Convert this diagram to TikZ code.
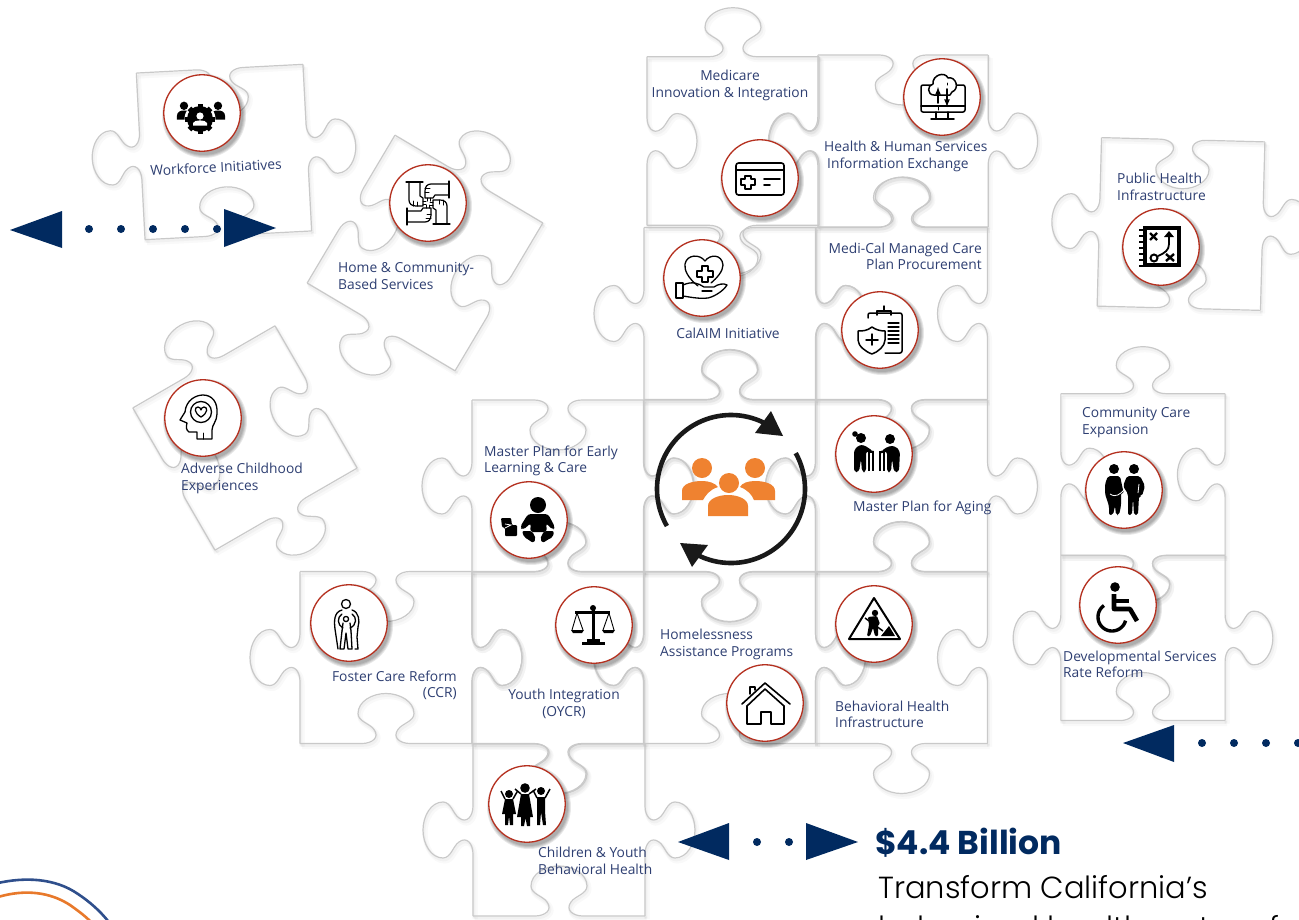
\documentclass[tikz,border=0pt]{standalone}
\usepackage{fontspec}
\setmainfont{Open Sans}
\newfontfamily\titlefont{Poppins}
\newfontfamily\sublightfont{Poppins Light}
\definecolor{navy}{HTML}{012A60}
\definecolor{labelc}{HTML}{2E3F72}
\definecolor{badgered}{HTML}{B5301F}
\definecolor{orangep}{HTML}{EF8230}
\definecolor{logoblue}{HTML}{2F4F8C}
\definecolor{logoorange}{HTML}{E8792B}
\tikzset{
  shA/.style={draw=black!60,line width=5pt,opacity=.04},
  shB/.style={draw=black!60,line width=2.6pt,opacity=.05},
  pline/.style={draw=black!21,line width=1.2pt},
  lab/.style={font=\fontsize{13.8}{16.6}\selectfont,text=labelc,inner sep=0pt,yshift=-1.2pt},
  badge/.style={circle,draw=badgered,line width=1.3pt,fill=white,minimum size=76.5pt,inner sep=0pt},
  ic/.style={draw=black,line width=1.3pt,line join=round,line cap=round},
  icf/.style={fill=black,draw=black,line width=.5pt,line join=round},
  dotm/.style={circle,fill=navy,minimum size=8pt,inner sep=0pt},
}
\newcommand\kedgepath{(0,0) -- (62,0) .. controls (72,0) and (80,-6) .. (74,-14) .. controls (70,-20) and (58,-22) .. (58,-30) .. controls (58,-42) and (72,-50) .. (86,-50) .. controls (100,-50) and (114,-42) .. (114,-30) .. controls (114,-22) and (102,-20) .. (98,-14) .. controls (92,-6) and (100,0) .. (110,0) -- (172,0)}
\newcommand\kedge[4]{\begin{scope}[shift={(#1,#2)},rotate=#3,yscale=#4]\path[\kst] \kedgepath;\end{scope}}
% centre x, centre y, rotation, x scale, y scale, top, right, bottom, left
\newcommand\pc[9]{\begin{scope}[shift={(#1+\kdx,#2+\kdy)},rotate=#3,xscale=#4,yscale=#5]
  \kedge{-86}{-86}{0}{#6}\kedge{86}{-86}{-90}{#7}\kedge{86}{86}{-180}{#8}\kedge{-86}{86}{-270}{#9}
\end{scope}}
\newcommand\allpieces{%
  \pc{224}{152}{3}{.97}{.97}{-1}{1}{-1}{1}%
  \pc{425}{253}{-30.7}{1}{1}{1}{-1}{1}{-1}%
  \pc{245}{438}{30}{.955}{.955}{1}{-1}{1}{-1}%
  \pc{733}{141}{0}{1}{.98}{1}{-1}{1}{-1}%
  \pc{903}{141}{0}{.99}{1}{-1}{1}{-1}{1}%
  \pc{730}{313.5}{0}{1}{1}{-1}{1}{-1}{1}%
  \pc{901.5}{313.5}{0}{1}{1}{1}{-1}{1}{-1}%
  \pc{558}{486}{0}{1}{1}{-1}{1}{-1}{1}%
  \pc{729.5}{486}{0}{1}{1}{1}{-1}{1}{-1}%
  \pc{901.5}{486}{0}{1}{1}{-1}{1}{-1}{1}%
  \pc{386}{657.5}{0}{1}{1}{-1}{1}{-1}{1}%
  \pc{558}{657.5}{0}{1}{1}{1}{-1}{1}{-1}%
  \pc{729.5}{657.5}{0}{1}{1}{-1}{1}{-1}{1}%
  \pc{901.5}{657.5}{0}{1}{1}{1}{-1}{1}{-1}%
  \pc{559}{830}{0}{1}{1}{-1}{1}{-1}{1}%
  \pc{1181}{224}{-1.5}{.95}{.98}{-1}{1}{-1}{1}%
  \pc{1143}{474.5}{0}{.955}{.94}{1}{-1}{1}{-1}%
  \pc{1143}{638}{0}{.955}{.96}{-1}{1}{-1}{1}%
}
\newcommand\badgeat[3]{\foreach \rr in {42,41,40,39}{\fill[black,opacity=.09] (#2+2,#3+3) circle (\rr);}
  \node[badge] (#1) at (#2,#3) {};}
\newcommand\bust[4]{% x y scale colour
  \fill[#4] (#1,#2-1.0*#3) circle (.8*#3);
  \fill[#4] (#1-1.35*#3,#2+1.65*#3) -- (#1-1.35*#3,#2+.9*#3) .. controls (#1-1.35*#3,#2+.1*#3) and (#1-.6*#3,#2-.1*#3) .. (#1,#2-.1*#3) .. controls (#1+.6*#3,#2-.1*#3) and (#1+1.35*#3,#2+.1*#3) .. (#1+1.35*#3,#2+.9*#3) -- (#1+1.35*#3,#2+1.65*#3) -- cycle;}
\begin{document}
\begin{tikzpicture}[x=1pt,y=-1pt]
\useasboundingbox (0,0) rectangle (1299,919);
\clip (0,0) rectangle (1299,919);
\fill[white] (0,0) rectangle (1299,919);
% ---------- puzzle pieces
\def\kdx{2}\def\kdy{3}\def\kst{shA}\allpieces
\def\kdx{1}\def\kdy{2}\def\kst{shB}\allpieces
\def\kdx{0}\def\kdy{0}\def\kst{pline}\allpieces
% ---------- logo arcs
\draw[logoblue,line width=2.6pt] (-2,883) .. controls (25,877) and (55,878) .. (78,894) .. controls (90,902) and (100,911) .. (108,921);
\draw[logoorange,line width=2.6pt] (-2,897) .. controls (25,889) and (50,892) .. (70,905) .. controls (77,910) and (84,915) .. (90,921);
% ---------- arrows and dots
\fill[navy] (10,230) -- (62,211) -- (62,248) -- cycle;
\fill[navy] (224,209) -- (276,228) -- (224,247) -- cycle;
\foreach \n/\xx in {a/89,b/121,c/153,d/185,e/217}{\node[dotm] (dt\n) at (\xx,229) {};}
\fill[navy] (1123,743) -- (1174,725) -- (1174,762) -- cycle;
\foreach \n/\xx in {a/1202,b/1234,c/1266,d/1298}{\node[dotm] (dr\n) at (\xx,743) {};}
\fill[navy] (678,842) -- (729,823) -- (729,860) -- cycle;
\fill[navy] (806,823) -- (858,842) -- (806,860) -- cycle;
\foreach \n/\xx in {a/757,b/789}{\node[dotm] (db\n) at (\xx,842) {};}
% ---------- centre
\foreach \a/\b in {-118/29,64/210}{\draw[black!90,line width=4.6pt] plot[domain=\a:\b,samples=70] ({731+74*cos(\x)},{489-74*sin(\x)});}
\fill[black!90] (771,411) -- (755,433) -- (783,436) -- cycle;
\fill[black!90] (680,543) -- (708,545) -- (692,567) -- cycle;
\fill[orangep] (702,468) circle (10);
\fill[orangep] (755,468) circle (10);
\fill[orangep] (682,500) -- (682,491) .. controls (682,484) and (692,481) .. (702,481) .. controls (709,481) and (715,483) .. (718,487) .. controls (709,490) and (706,495) .. (703,500) -- cycle;
\fill[orangep] (775,500) -- (775,491) .. controls (775,484) and (765,481) .. (755,481) .. controls (748,481) and (742,483) .. (740,487) .. controls (748,490) and (752,495) .. (754,500) -- cycle;
\fill[orangep] (729,483) circle (10);
\fill[orangep] (708,516) -- (708,506) .. controls (708,499) and (718,495) .. (728,495) .. controls (738,495) and (748,499) .. (748,506) -- (748,516) -- cycle;
% ---------- badges
\badgeat{bWork}{202}{113}
\badgeat{bHome}{428}{203}
\badgeat{bAdv}{203}{418}
\badgeat{bCard}{760}{178}
\badgeat{bHHS}{942}{97}
\badgeat{bCal}{702}{278}
\badgeat{bMedi}{880}{330}
\badgeat{bPub}{1161}{247}
\badgeat{bComm}{1124}{490}
\badgeat{bDev}{1118}{605}
\badgeat{bAging}{874}{454}
\badgeat{bEarly}{529}{520}
\badgeat{bFoster}{349}{623}
\badgeat{bYouth}{594}{625}
\badgeat{bBeh}{874}{624}
\badgeat{bHouse}{765}{703}
\badgeat{bKids}{527}{804}
% ---------- icons
\begin{scope}[shift={(bWork.center)}]% workforce
  \bust{-18}{-2}{5.2}{black}\bust{16}{-2}{5.2}{black}
  \fill[white] (-2,6) circle (15.5);
  \foreach \t in {0,45,...,315}{\draw[black,line width=5pt] (-2,6) -- ++({15*cos(\t)},{15*sin(\t)});}
  \fill[black] (-2,6) circle (13);
  \fill[white] (-2,3) circle (3.6);
  \fill[white] (-9,12.5) -- (-9,10) .. controls (-8,6.5) and (4,6.5) .. (5,10) -- (5,12.5) -- cycle;
\end{scope}
\begin{scope}[shift={(bHome.center)}]% four hands
  \foreach \t in {0,90,180,270}{\begin{scope}[rotate=\t]
    \draw[ic,line width=1.2pt] (-19,-21) -- (-19,-3) .. controls (-19,1) and (-16,3) .. (-12,3) -- (-5,3) -- (-5,-5) -- (-8,-7) -- (-8,-21);
    \draw[ic,line width=1.2pt] (-22,-21) -- (-5,-21);
    \draw[ic,line width=1pt] (-5,-2) -- (-2,-2) (-5,1) -- (-2,1) (-15,3) -- (-15,-2) (-11,3) -- (-11,-1);
  \end{scope}}
\end{scope}
\begin{scope}[shift={(bAdv.center)}]% head
  \draw[ic] (9,21) -- (-6,21) -- (-6,14) -- (-14,14) .. controls (-17,12) and (-17,9) .. (-16,5) -- (-23,2) -- (-18,-6) .. controls (-17,-18) and (-7,-23) .. (0,-23) .. controls (9,-23) and (15,-16) .. (14,-4) .. controls (14,3) and (9,7) .. (9,12) -- cycle;
  \draw[ic] (-2,-6) circle (10.5);
  \draw[ic] (-2,-1) .. controls (-9,-5) and (-9,-11) .. (-5,-11) .. controls (-3,-11) and (-2,-9) .. (-2,-8) .. controls (-2,-9) and (-1,-11) .. (1,-11) .. controls (5,-11) and (5,-5) .. (-2,-1);
  \draw[ic,line width=1pt] (0,21) -- (0,15);
\end{scope}
\begin{scope}[shift={(bCard.center)}]% card
  \draw[ic,rounded corners=2.5pt,line width=1.6pt] (-24,-15) rectangle (24,17);
  \draw[ic,line width=1.6pt] (-24,-8) -- (24,-8) (4,1) -- (20,1) (4,7) -- (10,7);
  \draw[ic,line width=1.4pt] (-15,-2) -- (-9,-2) -- (-9,1) -- (-5,1) -- (-5,7) -- (-9,7) -- (-9,11) -- (-15,11) -- (-15,7) -- (-19,7) -- (-19,1) -- (-15,1) -- cycle;
\end{scope}
\begin{scope}[shift={(bHHS.center)}]% monitor
  \draw[ic,rounded corners=2pt,line width=1.5pt] (-21,-12) rectangle (23,15);
  \draw[ic,line width=1.5pt] (-21,9) -- (23,9) (-6,15) -- (-6,21) (6,15) -- (6,21) (-11,22) -- (12,22);
  \draw[ic,fill=white,line width=1.5pt] (-8,-2) .. controls (-15,-2) and (-15,-12) .. (-9,-13) .. controls (-10,-22) and (3,-26) .. (6,-19) .. controls (14,-21) and (18,-8) .. (10,-5) -- (8,-2) -- cycle;
  \draw[ic,line width=1.6pt,-latex] (-4,6) -- (-4,-10);
  \draw[ic,line width=1.6pt,-latex] (5,-8) -- (5,10);
  \draw[ic,line width=1pt] (-4,9) -- (-4,13) (5,-12) -- (5,-14);
\end{scope}
\begin{scope}[shift={(bCal.center)}]% hand heart
  \draw[ic] (-4,8) .. controls (-14,0) and (-18,-8) .. (-17,-14) .. controls (-15,-24) and (-2,-24) .. (3,-17) .. controls (8,-24) and (20,-24) .. (21,-13) .. controls (21,-7) and (15,0) .. (9,5);
  \draw[ic] (0,-12) -- (6,-12) -- (6,-7) -- (11,-7) -- (11,-1) -- (6,-1) -- (6,4) -- (0,4) -- (0,-1) -- (-5,-1) -- (-5,-7) -- (0,-7) -- cycle;
  \draw[ic] (-26,5) rectangle (-19,20);
  \draw[ic] (-19,7) .. controls (-10,3) and (-4,5) .. (2,9) -- (12,9) .. controls (16,6) and (22,5) .. (25,7) .. controls (22,12) and (14,18) .. (6,20) .. controls (-4,21) and (-12,19) .. (-19,18);
  \draw[ic] (0,13) -- (10,13);
\end{scope}
\begin{scope}[shift={(bMedi.center)}]% clipboard + shield
  \draw[ic,rounded corners=2pt,line width=1.5pt] (-12,-12) -- (-12,-17) -- (22,-17) -- (22,23) -- (5,23);
  \draw[ic,line width=1.5pt] (-3,-15) -- (-3,-19) -- (11,-19) -- (11,-15);
  \draw[ic,line width=1.5pt] (4,-24) -- (4,-20);
  \draw[ic,line width=1.1pt] (8,-7) -- (19,-7) (8,-3) -- (19,-3) (8,1) -- (19,1) (8,5) -- (19,5) (8,9) -- (19,9) (8,13) -- (19,13);
  \draw[ic,fill=white,line width=1.5pt] (-8,-3) .. controls (-13,1) and (-18,1) .. (-22,1) -- (-22,10) .. controls (-22,16) and (-14,22) .. (-8,24) .. controls (-2,22) and (5,16) .. (5,10) -- (5,1) .. controls (1,1) and (-4,0) .. (-8,-3) -- cycle;
  \draw[ic,line width=1.5pt] (-8,4) -- (-8,15) (-14,10) -- (-2,10);
\end{scope}
\begin{scope}[shift={(bPub.center)}]% notebook
  \fill[black] (-18,-21) rectangle (20,20);
  \foreach \yy in {-17,-11,...,19}{\draw[black,line width=1.2pt] (-22,\yy) -- (-17,\yy);}
  \fill[white] (-14,-17) rectangle (16,16);
  \draw[black,line width=2.4pt] (-11,-14) -- (-4,-7) (-11,-7) -- (-4,-14) (5,7) -- (13,14) (5,14) -- (13,7);
  \draw[black,line width=2pt] (-7,11) circle (3.5);
  \draw[black,line width=1.8pt] (-3,9) .. controls (4,6) and (8,3) .. (8,-3) -- (8,-12);
  \fill[black] (3,-10) -- (8,-16) -- (13,-10) -- cycle;
\end{scope}
\begin{scope}[shift={(bComm.center)}]% couple
  \fill[black] (-10,-21) circle (5) (10,-21) circle (5);
  \fill[black,rounded corners=2pt] (-16,-14) -- (-4,-14) -- (-1,0) -- (0,3) -- (-3,3) -- (-3,16) -- (-5,25) -- (-8,25) -- (-9,16) -- (-11,25) -- (-15,25) -- (-15,16) -- (-19,4) -- (-19,-6) -- cycle;
  \fill[black,rounded corners=2pt] (3,-14) -- (16,-14) -- (21,-4) -- (18,6) -- (15,6) -- (14,25) -- (10,25) -- (9,8) -- (8,25) -- (4,25) -- (4,4) -- (-1,-4) -- cycle;
  \draw[white,line width=.8pt] (-14,4) .. controls (-8,8) and (-4,4) .. (0,0) (15,-6) -- (14,3);
\end{scope}
\begin{scope}[shift={(bDev.center)}]% wheelchair
  \fill[black] (-3,-18) circle (4.8);
  \draw[black,line width=4.6pt,line join=round] (-4,-11) -- (-4,4) -- (12,4) -- (19,16);
  \draw[black,line width=3.6pt] (-4,-4) -- (11,-4);
  \draw[black,line width=3.4pt] plot[domain=15:235,samples=40] ({-6+14*cos(\x)},{12+14*sin(\x)});
\end{scope}
\begin{scope}[shift={(bAging.center)}]% two with walkers
  \fill[black] (-13,-16) circle (5) (16,-15) circle (5);
  \fill[black] (-19,-20) circle (2.8);
  \fill[black,rounded corners=3pt] (-20,18) -- (-20,-4) -- (-15,-9) -- (-10,-9) -- (-1,-3) -- (-1,-1) -- (-8,-3) -- (-8,18) -- (-12,18) -- (-13,5) -- (-15,18) -- cycle;
  \fill[black,rounded corners=3pt] (25,18) -- (26,-3) -- (21,-8) -- (15,-8) -- (7,-3) -- (7,-1) -- (13,-3) -- (13,18) -- (17,18) -- (18,5) -- (20,18) -- cycle;
  \draw[black,line width=1.1pt] (-5,17) -- (-5,-2) -- (-1,-2) -- (-1,17) (6,17) -- (6,-2) -- (10,-2) -- (10,17);
\end{scope}
\begin{scope}[shift={(bBeh.center)}]% work sign
  \draw[ic,line width=2pt,miter limit=10] (0,-26) -- (26,15) -- (-25,15) -- cycle;
  \fill[black] (1,-11) circle (3.2);
  \fill[black,rounded corners=1pt] (-6,-7) -- (3,-8) -- (6,0) -- (4,1) -- (4,12) -- (1,12) -- (-1,4) -- (-4,12) -- (-7,12) -- (-5,1) -- cycle;
  \draw[black,line width=1.5pt] (-9,-6) -- (9,7);
  \fill[black] (7,12) -- (15,2) -- (21,12) -- cycle;
\end{scope}
\begin{scope}[shift={(bHouse.center)}]% house
  \draw[ic,line width=1.6pt,miter limit=10] (-23,1) -- (0,-20) -- (25,1);
  \draw[ic,line width=1.6pt] (-18,3) -- (0,-14) -- (19,3);
  \draw[ic,line width=1.6pt] (-18,3) -- (-18,21) -- (-4,21) -- (-4,9) -- (6,9) -- (6,21) -- (19,21) -- (19,3);
  \draw[ic,line width=1.6pt] (-15,-9) -- (-15,-16) -- (-10,-16) -- (-10,-13);
\end{scope}
\begin{scope}[shift={(bYouth.center)}]% scales
  \fill[black] (-12,17) rectangle (11,20);
  \fill[black] (-7,14) rectangle (6,17);
  \fill[black] (-2,-15) rectangle (1,15);
  \fill[black] (-1,-17) circle (3);
  \fill[black] (-19,-14) rectangle (16,-11.5);
  \draw[black,line width=.9pt] (-17,-12) -- (-22,5) (-17,-12) -- (-11,5) (15,-12) -- (9,5) (15,-12) -- (20,5);
  \fill[black] (-23,5) -- (-10,5) -- (-12,8) -- (-21,8) -- cycle;
  \fill[black] (8,5) -- (21,5) -- (19,8) -- (10,8) -- cycle;
\end{scope}
\begin{scope}[shift={(bEarly.center)}]% baby
  \fill[black] (9,-15) circle (8);
  \fill[black,rounded corners=3pt] (-1,-6) -- (19,-6) -- (26,7) -- (24,10) -- (17,3) -- (18,12) -- (1,12) -- (2,3) -- (-6,10) -- (-9,7) -- cycle;
  \fill[black,rounded corners=2pt] (-7,11) -- (3,11) -- (7,19) -- (4,23) -- (0,20) -- (-5,17) -- cycle;
  \fill[black,rounded corners=2pt] (25,11) -- (15,11) -- (11,19) -- (14,23) -- (18,20) -- (24,17) -- cycle;
  \fill[black,rounded corners=1pt] (-28,-2) -- (-18,-2) -- (-17,5) -- (-12,5) -- (-12,16) -- (-24,16) -- (-24,8) -- (-27,7) -- cycle;
  \draw[white,line width=.8pt] (-24,8) -- (-18,5) -- (-24,4);
\end{scope}
\begin{scope}[shift={(bFoster.center)}]% foster
  \draw[ic,line width=1.3pt] (-3,-19) circle (4.5);
  \draw[ic,line width=1.3pt] (-7,-13) .. controls (-15,-11) and (-15,-2) .. (-14,6) -- (-11,26) (-7,8) -- (-9,26) -- (-5,26) -- (-3,10) -- (-1,26) -- (3,26) -- (2,8) (3,-13) .. controls (10,-11) and (11,-2) .. (9,4) -- (8,14) -- (9,26) -- (6,26);
  \draw[ic,line width=1.3pt] (-7,-9) .. controls (-12,-6) and (-12,2) .. (-6,5) (3,-9) .. controls (8,-6) and (8,2) .. (1,5);
  \draw[ic,line width=1.3pt] (-3,-4) circle (2.6) (-6,0) -- (-7,8) (1,0) -- (2,8);
\end{scope}
\begin{scope}[shift={(bKids.center)}]% children
  \fill[black] (-18,-10) circle (4) (-2,-16) circle (4.8) (14,-13) circle (4);
  \fill[black] (-22,-5) -- (-14,-5) -- (-11,10) -- (-14,10) -- (-14,21) -- (-17,21) -- (-18,12) -- (-19,21) -- (-22,21) -- (-22,10) -- (-25,10) -- cycle;
  \fill[black] (-6,-10) -- (2,-10) -- (6,13) -- (3,13) -- (3,22) -- (0,22) -- (-1.5,14) -- (-3,22) -- (-6,22) -- (-6,13) -- (-10,13) -- cycle;
  \fill[black] (10,-7) -- (18,-7) -- (18,7) -- (19,21) -- (16,21) -- (14,8) -- (13,21) -- (10,21) -- cycle;
  \draw[black,line width=1.5pt] (-22,-5) -- (-26,-13) (-14,-5) -- (-10,-12) (-6,-10) -- (-12,-15) (2,-10) -- (9,-15) (10,-6) -- (6,-14) (18,-6) -- (23,-15);
\end{scope}
% ---------- labels
\node[lab,align=center] (tMed) at (730,84.5) {Medicare\\Innovation \& Integration};
\node[lab,align=left,anchor=west] (tHHS) at (824,155.5) {Health \& Human Services\\\hspace*{3pt}Information Exchange};
\node[lab,align=right,anchor=east] (tMedi) at (982,255) {Medi-Cal Managed Care\\Plan Procurement};
\node[lab] (tCal) at (728,332) {CalAIM Initiative};
\node[lab,align=left,anchor=west] (tPub) at (1117,185.5) {Public Health\\Infrastructure};
\node[lab,rotate=3] (tWork) at (216,166) {Workforce Initiatives};
\node[lab,align=left,anchor=west] (tHome) at (338,275) {Home \& Community-\\Based Services};
\node[lab,align=left,anchor=west] (tAdv) at (181,477.5) {Adverse Childhood\\Experiences};
\node[lab,align=left,anchor=west] (tEarly) at (484,459.5) {Master Plan for Early\\Learning \& Care};
\node[lab,anchor=west] (tAging) at (853,507) {Master Plan for Aging};
\node[lab,align=left,anchor=west] (tComm) at (1082,421.5) {Community Care\\Expansion};
\node[lab,align=left,anchor=west] (tDev) at (1063,663) {Developmental Services\\Rate Reform};
\node[lab,align=right,anchor=east] (tFoster) at (457,684) {Foster Care Reform\\(CCR)};
\node[lab,align=center] (tYouth) at (564,702.5) {Youth Integration\\(OYCR)};
\node[lab,align=left,anchor=west] (tHomeless) at (660,643) {Homelessness\\Assistance Programs};
\node[lab,align=left,anchor=west] (tBeh) at (835,713) {Behavioral Health\\Infrastructure};
\node[lab,align=left,anchor=west] (tKids) at (538,859.5) {Children \& Youth\\Behavioral Health};
% ---------- heading
\node[anchor=base west,inner sep=0pt,text=navy,font=\titlefont\bfseries\fontsize{33}{33}\selectfont] (tHead) at (875,854) {\$4.4 Billion};
\node[anchor=base west,inner sep=0pt,text=black,font=\sublightfont\fontsize{30.5}{30.5}\selectfont] (tSub) at (878,898) {Transform California’s};
\node[anchor=base west,inner sep=0pt,text=black,font=\sublightfont\fontsize{30.5}{30.5}\selectfont] (tSubb) at (878,938) {behavioral health system for};
\end{tikzpicture}
\end{document}
